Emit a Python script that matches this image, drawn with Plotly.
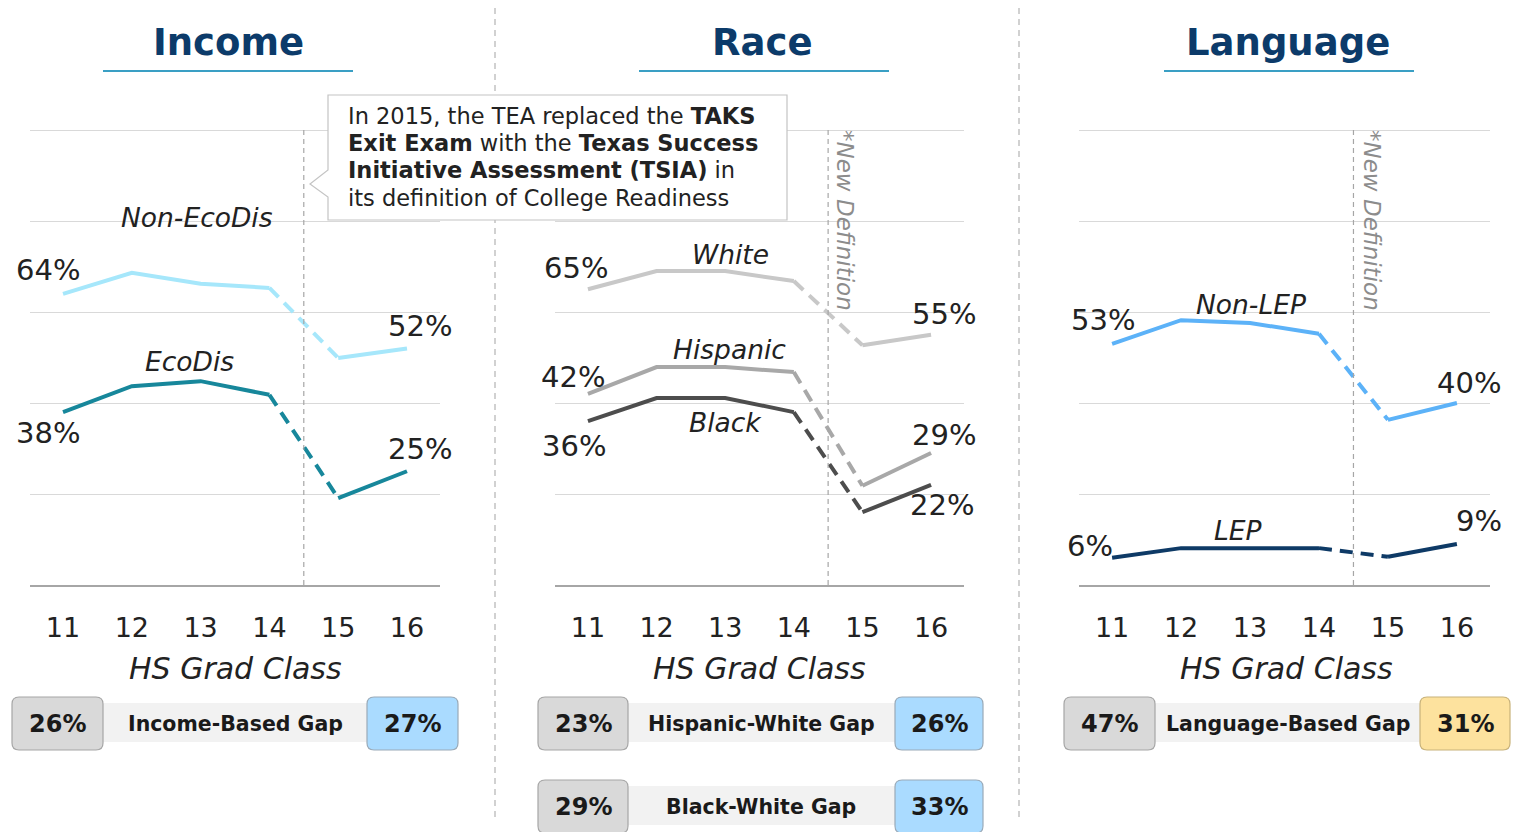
import plotly.graph_objects as go

W, H = 1513, 832
FONT = "Verdana, DejaVu Sans, sans-serif"

# ---------------- data ----------------
grad_class = [11, 12, 13, 14, 15, 16]

non_ecodis = [64, 68.6, 66.2, 65.3, 49.9, 52]
ecodis = [38, 43.7, 44.8, 41.8, 19.1, 25]

white = [65, 69.0, 69.0, 66.8, 52.7, 55]
hispanic = [42, 47.9, 47.9, 46.8, 21.8, 29]
black = [36, 41.1, 41.1, 38.0, 16.0, 22]

non_lep = [53, 58.2, 57.6, 55.2, 36.3, 40]
lep = [6, 8.1, 8.1, 8.1, 6.2, 9]

panel_titles = ["Income", "Race", "Language"]
gap_rows = [
    ("26%", "Income-Based Gap", "27%"),
    ("23%", "Hispanic-White Gap", "26%"),
    ("29%", "Black-White Gap", "33%"),
    ("47%", "Language-Based Gap", "31%"),
]
callout_lines = [
    "In 2015, the TEA replaced the <b>TAKS</b>",
    "<b>Exit Exam</b> with the <b>Texas Success</b>",
    "<b>Initiative Assessment (TSIA)</b> in",
    "its definition of College Readiness",
]

# ---------------- helpers ----------------
def px(x, y):
    return x / W, 1 - y / H

def fx(x):
    return x / W

def fy(y):
    return 1 - y / H

def rrect_path(x0, y0, x1, y1, r):
    pts = [
        ("M", [(x0 + r, y0)]),
        ("L", [(x1 - r, y0)]),
        ("Q", [(x1, y0), (x1, y0 + r)]),
        ("L", [(x1, y1 - r)]),
        ("Q", [(x1, y1), (x1 - r, y1)]),
        ("L", [(x0 + r, y1)]),
        ("Q", [(x0, y1), (x0, y1 - r)]),
        ("L", [(x0, y0 + r)]),
        ("Q", [(x0, y0), (x0 + r, y0)]),
    ]
    s = ""
    for cmd, ps in pts:
        s += cmd + " " + " ".join(f"{fx(a):.6f},{fy(b):.6f}" for a, b in ps) + " "
    return s + "Z"

def ptext(x, y, text, size, color="#222222", **kw):
    ax_, ay_ = px(x, y)
    d = dict(x=ax_, y=ay_, xref="paper", yref="paper", text=text, showarrow=False,
             xanchor="center", yanchor="middle",
             font=dict(family=FONT, size=size, color=color))
    d.update(kw)
    return d

fig = go.Figure()

panels = [
    dict(x0=30, x1=440, ax="x", ay="y"),
    dict(x0=555, x1=964, ax="x2", ay="y2"),
    dict(x0=1079, x1=1490, ax="x3", ay="y3"),
]
Y_BOT = 585
PX_PER_PCT = 4.55
Y_MAX = 101
Y_TOP = Y_BOT - Y_MAX * PX_PER_PCT

series = [
    (0, non_ecodis, "#a6e7fb", "Non-EcoDis", (197, 217), (-15, 24), (13, 22)),
    (0, ecodis, "#17879b", "EcoDis", (189, 361), (-15, -21), (13, 22)),
    (1, white, "#c8c8c8", "White", (730, 254), (-12, 21), (13, 21)),
    (1, hispanic, "#a8a8a8", "Hispanic", (729, 349), (-15, 17), (13, 18)),
    (1, black, "#4d4d4d", "Black", (725, 422), (-14, -25), (11, -20)),
    (2, non_lep, "#5cb2f8", "Non-LEP", (1251, 304), (-9, 24), (12, 20)),
    (2, lep, "#0e3a66", "LEP", (1238, 530), (-22, 12), (22, 23)),
]

annotations = []
shapes = []

for pi, vals, color, name, npos, s_shift, e_shift in series:
    p = panels[pi]
    xs = grad_class[:4] + [None] + grad_class[4:]
    ys = vals[:4] + [None] + vals[4:]
    fig.add_trace(go.Scatter(
        x=xs, y=ys, mode="lines", xaxis=p["ax"], yaxis=p["ay"],
        line=dict(color=color, width=4), showlegend=False, hoverinfo="skip",
        connectgaps=False,
    ))
    fig.add_trace(go.Scatter(
        x=grad_class[3:5], y=vals[3:5], mode="lines", xaxis=p["ax"], yaxis=p["ay"],
        line=dict(color=color, width=4, dash="13px,8px"), showlegend=False,
        hoverinfo="skip",
    ))
    annotations.append(dict(
        x=grad_class[0], y=vals[0], xref=p["ax"], yref=p["ay"],
        text=f"{vals[0]:.0f}%", showarrow=False, xshift=s_shift[0], yshift=s_shift[1],
        xanchor="center", yanchor="middle",
        font=dict(family=FONT, size=29, color="#222222"),
    ))
    annotations.append(dict(
        x=grad_class[-1], y=vals[-1], xref=p["ax"], yref=p["ay"],
        text=f"{vals[-1]:.0f}%", showarrow=False, xshift=e_shift[0], yshift=e_shift[1],
        xanchor="center", yanchor="middle",
        font=dict(family=FONT, size=29, color="#222222"),
    ))
    annotations.append(ptext(npos[0], npos[1], f"<i>{name}</i>", 26.5))

layout_axes = {}
for i, p in enumerate(panels):
    xk = "xaxis" if i == 0 else f"xaxis{i+1}"
    yk = "yaxis" if i == 0 else f"yaxis{i+1}"
    layout_axes[xk] = dict(
        domain=[fx(p["x0"]), fx(p["x1"])], range=[10.52, 16.48],
        tickvals=grad_class, ticktext=[str(g) for g in grad_class],
        tickfont=dict(family=FONT, size=27, color="#222222"),
        ticks="", showgrid=False, zeroline=False,
        showline=True, linecolor="#a6a6a6", linewidth=1.5,
        anchor="y" if i == 0 else f"y{i+1}", ticklabelstandoff=18,
        fixedrange=True,
    )
    layout_axes[yk] = dict(
        domain=[fy(Y_BOT), fy(Y_TOP)], range=[0, Y_MAX],
        tickvals=[0, 20, 40, 60, 80, 100],
        showgrid=True, gridcolor="#d9d9d9", gridwidth=1,
        showticklabels=False, zeroline=False, showline=False,
        anchor="x" if i == 0 else f"x{i+1}", fixedrange=True,
    )
    shapes.append(dict(
        type="line", xref=p["ax"], yref=p["ay"], x0=14.5, x1=14.5, y0=0, y1=100,
        line=dict(color="#a6a6a6", width=1.2, dash="5px,4px"), layer="above",
    ))

for cx in [235, 760, 1286]:
    annotations.append(ptext(cx, 668, "<i>HS Grad Class</i>", 30))

for title, cx, (u0, u1) in zip(panel_titles, [228, 762, 1288],
                               [(103, 353), (639, 889), (1164, 1414)]):
    annotations.append(ptext(cx, 42, f"<b>{title}</b>", 37, color="#0c3b6a"))
    shapes.append(dict(
        type="line", xref="paper", yref="paper", x0=fx(u0), x1=fx(u1),
        y0=fy(71), y1=fy(71), line=dict(color="#3a9fc4", width=2),
    ))

for sx in [495, 1019]:
    shapes.append(dict(
        type="line", xref="paper", yref="paper", x0=fx(sx), x1=fx(sx),
        y0=fy(8), y1=fy(822), line=dict(color="#b3b3b3", width=1.2, dash="6px,5px"),
    ))

for cx in [845, 1372]:
    annotations.append(ptext(cx, 220, "<i>*New Definition</i>", 23, color="#8c8c8c",
                             textangle=90))

# callout box
pts = [(328, 95), (787, 95), (787, 220), (328, 220), (328, 197), (310, 184), (328, 170)]
path = "M " + " L ".join(f"{fx(a):.6f},{fy(b):.6f}" for a, b in pts) + " Z"
shapes.append(dict(
    type="path", xref="paper", yref="paper", path=path,
    fillcolor="white", line=dict(color="#c4c4c4", width=1.2), layer="above",
))
for line, ly in zip(callout_lines, [116, 143, 170, 198]):
    annotations.append(ptext(346, ly, line, 22.5, xanchor="left", align="left"))

badge_geo = [
    ((12, 103), (103, 367), (367, 458), (697, 750), "#aadbff"),
    ((538, 628), (628, 895), (895, 983), (697, 750), "#aadbff"),
    ((538, 628), (628, 895), (895, 983), (780, 833), "#aadbff"),
    ((1064, 1155), (1155, 1420), (1420, 1510), (697, 750), "#fde29e"),
]
for (lv, lbl, rv), (lb, band, rb, (y0, y1), rcol) in zip(gap_rows, badge_geo):
    shapes.append(dict(
        type="rect", xref="paper", yref="paper", x0=fx(band[0]), x1=fx(band[1]),
        y0=fy(y0 + 6), y1=fy(y1 - 8), fillcolor="#f2f2f2", line=dict(width=0),
        layer="below",
    ))
    shapes.append(dict(
        type="path", xref="paper", yref="paper", path=rrect_path(lb[0], y0, lb[1], y1, 7),
        fillcolor="#d9d9d9", line=dict(color="#a6a6a6", width=1.2),
    ))
    shapes.append(dict(
        type="path", xref="paper", yref="paper", path=rrect_path(rb[0], y0, rb[1], y1, 7),
        fillcolor=rcol, line=dict(color="#9aaab8" if rcol == "#aadbff" else "#c8b27a", width=1.2),
    ))
    yc = (y0 + y1) / 2 + 0.5 if y1 < 800 else 807
    for text, xc, size in [(lv, (lb[0] + lb[1]) / 2, 24),
                           (lbl, (band[0] + band[1]) / 2, 20.5),
                           (rv, (rb[0] + rb[1]) / 2, 24)]:
        annotations.append(ptext(xc, yc, f"<b>{text}</b>", size, color="#1a1a1a"))

fig.update_layout(
    width=W, height=H, margin=dict(l=0, r=0, t=0, b=0),
    paper_bgcolor="white", plot_bgcolor="white",
    showlegend=False, annotations=annotations, shapes=shapes,
    font=dict(family=FONT),
    **layout_axes,
)

fig.write_html("out.html", config={"displayModeBar": False},
               post_script="document.body.style.margin='0';document.body.style.overflow='hidden';")
